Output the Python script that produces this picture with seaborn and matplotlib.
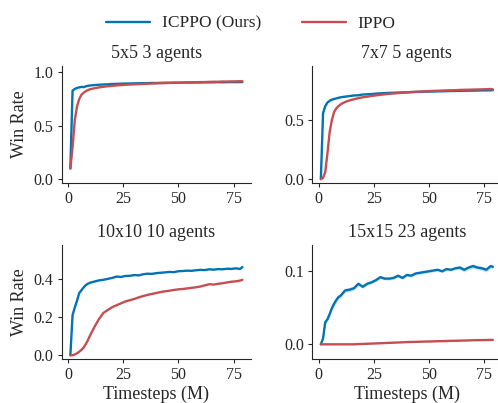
import matplotlib
matplotlib.use('Agg')
import matplotlib.pyplot as plt
import numpy as np
import seaborn as sns

# Timesteps (M)
steps = [1, 2, 3, 4, 5, 6, 7, 8, 9, 10,
         12, 14, 16, 18, 20, 22, 24, 26, 28, 30,
         32, 34, 36, 38, 40, 42, 44, 46, 48, 50,
         52, 54, 56, 58, 60, 62, 64, 66, 68, 70,
         72, 74, 76, 78, 79]

# 5x5 3 agents
icppo_5x5 = [0.10, 0.83, 0.845, 0.855, 0.86, 0.865, 0.862, 0.87, 0.875, 0.878,
             0.882, 0.885, 0.887, 0.889, 0.892, 0.893, 0.895, 0.896, 0.897, 0.898,
             0.899, 0.90, 0.90, 0.902, 0.901, 0.903, 0.904, 0.903, 0.905, 0.904,
             0.905, 0.906, 0.905, 0.907, 0.906, 0.908, 0.907, 0.908, 0.909, 0.908,
             0.909, 0.91, 0.909, 0.91, 0.91]
ippo_5x5 = [0.10, 0.30, 0.55, 0.68, 0.75, 0.79, 0.81, 0.825, 0.835, 0.843,
            0.852, 0.86, 0.866, 0.871, 0.875, 0.879, 0.882, 0.885, 0.887, 0.889,
            0.891, 0.893, 0.895, 0.896, 0.898, 0.899, 0.90, 0.902, 0.903, 0.904,
            0.905, 0.906, 0.908, 0.908, 0.91, 0.91, 0.912, 0.913, 0.913, 0.915,
            0.915, 0.916, 0.917, 0.918, 0.918]

# 7x7 5 agents
icppo_7x7 = [0.0, 0.56, 0.62, 0.65, 0.665, 0.675, 0.68, 0.685, 0.69, 0.695,
             0.70, 0.705, 0.71, 0.712, 0.718, 0.72, 0.722, 0.726, 0.728, 0.73,
             0.732, 0.733, 0.735, 0.736, 0.737, 0.739, 0.74, 0.741, 0.742, 0.743,
             0.744, 0.745, 0.746, 0.747, 0.748, 0.748, 0.749, 0.75, 0.751, 0.751,
             0.752, 0.753, 0.753, 0.754, 0.755]
ippo_7x7 = [0.0, 0.01, 0.06, 0.22, 0.40, 0.50, 0.57, 0.60, 0.62, 0.635,
            0.655, 0.668, 0.678, 0.687, 0.695, 0.70, 0.706, 0.711, 0.716, 0.72,
            0.724, 0.727, 0.73, 0.733, 0.736, 0.739, 0.741, 0.743, 0.745, 0.747,
            0.749, 0.75, 0.752, 0.753, 0.754, 0.755, 0.757, 0.758, 0.759, 0.76,
            0.761, 0.762, 0.763, 0.765, 0.762]

# 10x10 10 agents
icppo_10x10 = [0.0, 0.21, 0.25, 0.285, 0.325, 0.34, 0.355, 0.367, 0.375, 0.38,
               0.386, 0.392, 0.395, 0.40, 0.405, 0.412, 0.41, 0.415, 0.416, 0.42,
               0.418, 0.424, 0.427, 0.426, 0.43, 0.432, 0.434, 0.436, 0.435, 0.44,
               0.441, 0.443, 0.442, 0.445, 0.447, 0.446, 0.45, 0.448, 0.451, 0.45,
               0.453, 0.452, 0.455, 0.452, 0.462]
ippo_10x10 = [0.0, 0.0, 0.004, 0.01, 0.018, 0.028, 0.04, 0.058, 0.08, 0.105,
              0.15, 0.19, 0.222, 0.237, 0.252, 0.262, 0.272, 0.282, 0.288, 0.295,
              0.303, 0.31, 0.316, 0.321, 0.326, 0.331, 0.335, 0.338, 0.342, 0.345,
              0.347, 0.35, 0.353, 0.356, 0.36, 0.366, 0.372, 0.37, 0.374, 0.377,
              0.381, 0.385, 0.387, 0.391, 0.395]

# 15x15 23 agents
icppo_15x15 = [0.0, 0.008, 0.03, 0.034, 0.041, 0.049, 0.055, 0.06, 0.064, 0.066,
               0.073, 0.074, 0.076, 0.082, 0.078, 0.082, 0.084, 0.087, 0.091, 0.089,
               0.089, 0.09, 0.093, 0.09, 0.094, 0.093, 0.096, 0.097, 0.098, 0.099,
               0.1, 0.101, 0.099, 0.102, 0.101, 0.103, 0.104, 0.101, 0.104, 0.106,
               0.104, 0.103, 0.101, 0.106, 0.105]
icppo_15x15_sd = [0.0, 0.001, 0.003, 0.003, 0.004, 0.004, 0.004, 0.004, 0.003, 0.003,
                  0.003, 0.003, 0.003, 0.003, 0.002, 0.002, 0.002, 0.002, 0.002, 0.002,
                  0.002, 0.002, 0.002, 0.002, 0.002, 0.002, 0.002, 0.002, 0.002, 0.002,
                  0.002, 0.002, 0.002, 0.002, 0.002, 0.002, 0.003, 0.003, 0.003, 0.003,
                  0.003, 0.003, 0.003, 0.003, 0.003]
ippo_15x15 = [0.0, 0.0, 0.0, 0.0, 0.0, 0.0, 0.0, 0.0, 0.0, 0.0,
              0.0, 0.0, 0.0, 0.0003, 0.0005, 0.0007, 0.001, 0.0012, 0.0015, 0.0017,
              0.002, 0.0022, 0.0025, 0.0027, 0.003, 0.0032, 0.0033, 0.0035, 0.0037, 0.0038,
              0.004, 0.0042, 0.0043, 0.0045, 0.0047, 0.0048, 0.005, 0.0051, 0.0053, 0.0055,
              0.0056, 0.0057, 0.0058, 0.006, 0.006]

titles = ['5x5 3 agents', '7x7 5 agents', '10x10 10 agents', '15x15 23 agents']
ours = [icppo_5x5, icppo_7x7, icppo_10x10, icppo_15x15]
base = [ippo_5x5, ippo_7x7, ippo_10x10, ippo_15x15]
yticks = [[0.0, 0.5, 1.0], [0.0, 0.5], [0.0, 0.2, 0.4], [0.0, 0.1]]
ylims = [(-0.032, 1.056), (-0.029, 0.956), (-0.02, 0.575), (-0.02, 0.134)]

blue = '#0173b2'
red = '#c44e52'

sns.set_style('ticks')
plt.rcParams['font.family'] = ['Liberation Serif', 'DejaVu Serif']

fig = plt.figure(figsize=(4.98, 4.03), dpi=100)
positions = [[0.124, 0.547, 0.380, 0.288],
             [0.627, 0.547, 0.380, 0.288],
             [0.124, 0.109, 0.380, 0.282],
             [0.627, 0.109, 0.380, 0.282]]

for i in range(4):
    ax = fig.add_axes(positions[i])
    sns.lineplot(x=steps, y=ours[i], ax=ax, color=blue, linewidth=1.7, label='ICPPO (Ours)')
    sns.lineplot(x=steps, y=base[i], ax=ax, color=red, linewidth=1.7, label='IPPO')
    if i == 3:
        lo = np.array(icppo_15x15) - np.array(icppo_15x15_sd)
        hi = np.array(icppo_15x15) + np.array(icppo_15x15_sd)
        ax.fill_between(steps, lo, hi, color=blue, alpha=0.2, linewidth=0)
    ax.set_title(titles[i], fontsize=13)
    ax.set_yticks(yticks[i])
    ax.set_ylim(*ylims[i])
    ax.set_xticks([0, 25, 50, 75])
    ax.tick_params(labelsize=11.5, length=3, pad=3)
    ax.set_ylabel('Win Rate' if i % 2 == 0 else '', fontsize=13, labelpad=4)
    ax.set_xlabel('Timesteps (M)' if i >= 2 else '', fontsize=13, labelpad=2)
    sns.despine(ax=ax)
    if i == 0:
        handles, labels = ax.get_legend_handles_labels()
    ax.get_legend().remove()

fig.legend(handles, labels, loc='upper center', bbox_to_anchor=(0.504, 1.0), ncol=2,
           frameon=False, fontsize=12.5, handlelength=2.5, handletextpad=0.7,
           columnspacing=2.36)

fig.savefig('out.png', dpi=100)
